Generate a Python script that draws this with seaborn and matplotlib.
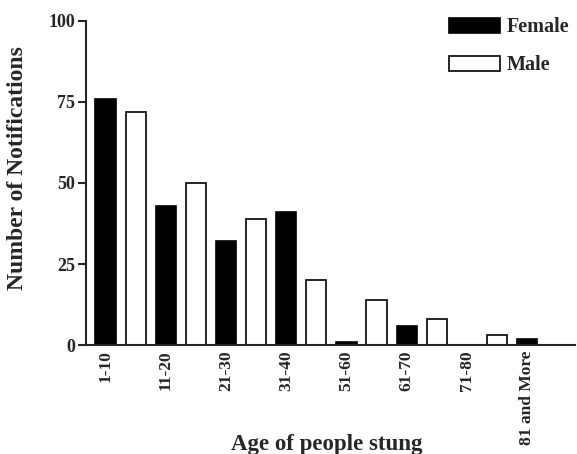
import seaborn as sns
import matplotlib.pyplot as plt
import pandas as pd
from matplotlib.patches import Patch

# Values
age_groups = ["1-10", "11-20", "21-30", "31-40", "51-60", "61-70", "71-80", "81 and More"]
female = [76, 43, 32, 41, 1, 6, 0, 2]
male = [72, 50, 39, 20, 14, 8, 3, 0]
y_ticks = [0, 25, 50, 75, 100]

sns.set_style("ticks")
plt.rcParams["font.family"] = ["Liberation Serif", "DejaVu Serif"]
plt.rcParams["font.weight"] = "bold"

# bars sit one after another: female at even slots, male at odd slots
rows = []
for i in range(len(age_groups)):
    rows.append({"slot": 2 * i, "count": female[i], "sex": "Female"})
    rows.append({"slot": 2 * i + 1, "count": male[i], "sex": "Male"})
df = pd.DataFrame(rows)

fig = plt.figure(figsize=(5.77, 4.54), dpi=100)
ax = fig.add_axes([0.149, 0.240, 0.848, 0.714])

sns.barplot(data=df, x="slot", y="count", hue="sex", palette={"Female": "black", "Male": "white"},
            dodge=False, native_scale=True, width=0.67, edgecolor="black", linewidth=1.2,
            legend=False, ax=ax)

ax.set_xlim(-0.65, 15.6)
ax.set_ylim(0, 100)
ax.set_yticks(y_ticks)
ax.set_xticks([2 * i for i in range(len(age_groups))])
ax.set_xticklabels(age_groups, rotation=90, fontsize=12.5, fontweight="bold")
ax.tick_params(axis="x", length=0, pad=4)
ax.tick_params(axis="y", length=6, width=1.5, labelsize=13, pad=2)
for lab in ax.get_yticklabels():
    lab.set_fontweight("bold")

sns.despine(ax=ax)
ax.spines["left"].set_linewidth(1.5)
ax.spines["bottom"].set_linewidth(1.5)

ax.set_xlabel("Age of people stung", fontsize=16.5, fontweight="bold")
ax.xaxis.set_label_coords(0.493, -0.275)
ax.set_ylabel("Number of Notifications", fontsize=17, fontweight="bold")
ax.yaxis.set_label_coords(-0.118, 0.545)

handles = [Patch(facecolor="black", edgecolor="black", linewidth=1.2, label="Female"),
           Patch(facecolor="white", edgecolor="black", linewidth=1.2, label="Male")]
ax.legend(handles=handles, loc="upper right", bbox_to_anchor=(1.025, 1.067), frameon=False,
          handlelength=2.5, handleheight=0.8, labelspacing=0.9, handletextpad=0.35,
          prop={"size": 14.5, "weight": "bold"})

fig.savefig("out.png", dpi=100)
plt.close(fig)
